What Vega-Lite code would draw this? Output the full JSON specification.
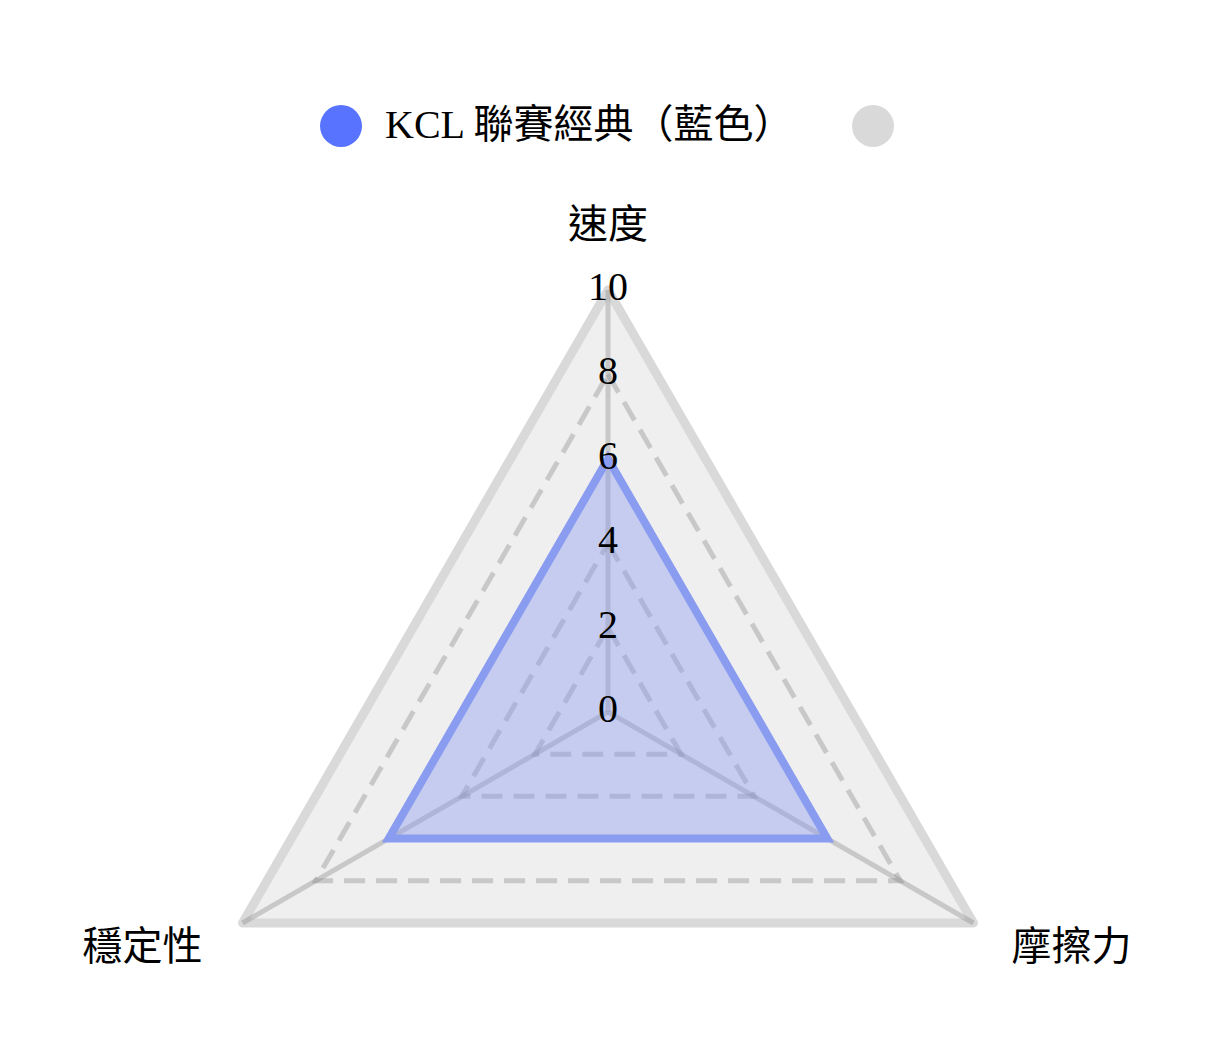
{
  "$schema": "https://vega.github.io/schema/vega-lite/v6.json",
  "width": 1216,
  "height": 1050,
  "autosize": "none",
  "padding": 0,
  "background": "white",
  "config": {"view": {"stroke": null}},
  "datasets": {
    "scores": [
      {"series": "KCL 聯賽經典（藍色）", "axis": "速度", "value": 6},
      {"series": "KCL 聯賽經典（藍色）", "axis": "摩擦力", "value": 6},
      {"series": "KCL 聯賽經典（藍色）", "axis": "穩定性", "value": 6},
      {"series": " ", "axis": "速度", "value": 10},
      {"series": " ", "axis": "摩擦力", "value": 10},
      {"series": " ", "axis": "穩定性", "value": 10}
    ],
    "grid": [
      {"axis": "速度", "value": 0}, {"axis": "摩擦力", "value": 0}, {"axis": "穩定性", "value": 0},
      {"axis": "速度", "value": 2}, {"axis": "摩擦力", "value": 2}, {"axis": "穩定性", "value": 2},
      {"axis": "速度", "value": 4}, {"axis": "摩擦力", "value": 4}, {"axis": "穩定性", "value": 4},
      {"axis": "速度", "value": 6}, {"axis": "摩擦力", "value": 6}, {"axis": "穩定性", "value": 6},
      {"axis": "速度", "value": 8}, {"axis": "摩擦力", "value": 8}, {"axis": "穩定性", "value": 8},
      {"axis": "速度", "value": 10}, {"axis": "摩擦力", "value": 10}, {"axis": "穩定性", "value": 10}
    ]
  },
  "layer": [
    {
      "data": {"name": "scores"},
      "transform": [
        {"filter": "datum.series === ' '"},
        {"calculate": "indexof(['速度','摩擦力','穩定性'], datum.axis)", "as": "k"},
        {"calculate": "datum.value * sin(datum.k * 2 * PI / 3)", "as": "px"},
        {"calculate": "datum.value * cos(datum.k * 2 * PI / 3)", "as": "py"}
      ],
      "mark": {"type": "line", "interpolate": "linear-closed", "fill": "#efefef", "stroke": "#d9d9d9", "strokeWidth": 9, "strokeJoin": "round", "strokeCap": "round"},
      "encoding": {
        "x": {"field": "px", "type": "quantitative", "axis": null, "scale": {"domain": [-14.41, 14.41], "nice": false, "zero": false}},
        "y": {"field": "py", "type": "quantitative", "axis": null, "scale": {"domain": [-8.01, 16.87], "nice": false, "zero": false}},
        "order": {"field": "k", "type": "quantitative"}
      }
    },
    {
      "data": {"name": "grid"},
      "transform": [
        {"filter": "datum.value > 0 && datum.value < 10"},
        {"calculate": "indexof(['速度','摩擦力','穩定性'], datum.axis)", "as": "k"},
        {"calculate": "datum.value * sin(datum.k * 2 * PI / 3)", "as": "px"},
        {"calculate": "datum.value * cos(datum.k * 2 * PI / 3)", "as": "py"}
      ],
      "mark": {"type": "line", "interpolate": "linear-closed", "color": "#808080", "opacity": 0.35, "strokeWidth": 5, "strokeDash": [21, 11]},
      "encoding": {
        "x": {"field": "px", "type": "quantitative"},
        "y": {"field": "py", "type": "quantitative"},
        "detail": {"field": "value", "type": "nominal"},
        "order": {"field": "k", "type": "quantitative"}
      }
    },
    {
      "data": {"name": "grid"},
      "transform": [
        {"filter": "datum.value === 10"},
        {"calculate": "indexof(['速度','摩擦力','穩定性'], datum.axis)", "as": "k"},
        {"calculate": "datum.value * sin(datum.k * 2 * PI / 3)", "as": "px"},
        {"calculate": "datum.value * cos(datum.k * 2 * PI / 3)", "as": "py"},
        {"calculate": "0", "as": "cx"}
      ],
      "mark": {"type": "rule", "color": "#808080", "opacity": 0.35, "strokeWidth": 5},
      "encoding": {
        "x": {"field": "cx", "type": "quantitative"},
        "y": {"field": "cx", "type": "quantitative"},
        "x2": {"field": "px"},
        "y2": {"field": "py"}
      }
    },
    {
      "data": {"name": "scores"},
      "transform": [
        {"filter": "datum.series !== ' '"},
        {"calculate": "indexof(['速度','摩擦力','穩定性'], datum.axis)", "as": "k"},
        {"calculate": "datum.value * sin(datum.k * 2 * PI / 3)", "as": "px"},
        {"calculate": "datum.value * cos(datum.k * 2 * PI / 3)", "as": "py"}
      ],
      "mark": {"type": "line", "interpolate": "linear-closed", "fill": "#8a9cf0", "fillOpacity": 0.42, "stroke": "#8a9cf0", "strokeWidth": 8, "strokeJoin": "miter"},
      "encoding": {
        "x": {"field": "px", "type": "quantitative"},
        "y": {"field": "py", "type": "quantitative"},
        "order": {"field": "k", "type": "quantitative"}
      }
    },
    {
      "data": {"name": "scores"},
      "transform": [
        {"calculate": "indexof(['速度','摩擦力','穩定性'], datum.axis)", "as": "k"},
        {"calculate": "datum.value * sin(datum.k * 2 * PI / 3)", "as": "px"},
        {"calculate": "datum.value * cos(datum.k * 2 * PI / 3)", "as": "py"}
      ],
      "mark": {"type": "point", "filled": true, "opacity": 0, "size": 10},
      "encoding": {
        "x": {"field": "px", "type": "quantitative"},
        "y": {"field": "py", "type": "quantitative"},
        "color": {
          "field": "series",
          "type": "nominal",
          "scale": {"domain": ["KCL 聯賽經典（藍色）", " "], "range": ["#5773ff", "#d9d9d9"]},
          "legend": {
            "title": null,
            "orient": "none",
            "direction": "horizontal",
            "legendX": 320,
            "legendY": 105,
            "symbolType": "circle",
            "symbolSize": 1764,
            "symbolOpacity": 1,
            "symbolStrokeWidth": 0,
            "labelFont": "Liberation Serif, Noto Sans CJK TC",
            "labelFontSize": 40,
            "labelColor": "#000000",
            "labelOffset": 23,
            "labelLimit": 1000,
            "columnPadding": 57
          }
        }
      }
    },
    {
      "data": {"name": "grid"},
      "transform": [
        {"filter": "datum.axis === '速度'"},
        {"calculate": "0", "as": "cx"}
      ],
      "mark": {"type": "text", "font": "Liberation Serif", "fontSize": 40, "color": "#000000", "align": "center", "baseline": "middle", "dy": -2},
      "encoding": {
        "x": {"field": "cx", "type": "quantitative"},
        "y": {"field": "value", "type": "quantitative"},
        "text": {"field": "value", "type": "quantitative"}
      }
    },
    {
      "data": {"name": "grid"},
      "transform": [
        {"filter": "datum.value === 10"},
        {"calculate": "indexof(['速度','摩擦力','穩定性'], datum.axis)", "as": "k"},
        {"calculate": "datum.value * sin(datum.k * 2 * PI / 3)", "as": "px"},
        {"calculate": "datum.value * cos(datum.k * 2 * PI / 3)", "as": "py"},
        {"filter": "datum.k === 0"}
      ],
      "mark": {"type": "text", "font": "Liberation Serif, Noto Sans CJK TC", "fontSize": 40, "color": "#000000", "align": "center", "baseline": "middle", "dy": -64},
      "encoding": {
        "x": {"field": "px", "type": "quantitative"},
        "y": {"field": "py", "type": "quantitative"},
        "text": {"field": "axis", "type": "nominal"}
      }
    },
    {
      "data": {"name": "grid"},
      "transform": [
        {"filter": "datum.value === 10"},
        {"calculate": "indexof(['速度','摩擦力','穩定性'], datum.axis)", "as": "k"},
        {"calculate": "datum.value * sin(datum.k * 2 * PI / 3)", "as": "px"},
        {"calculate": "datum.value * cos(datum.k * 2 * PI / 3)", "as": "py"},
        {"filter": "datum.k === 1"}
      ],
      "mark": {"type": "text", "font": "Liberation Serif, Noto Sans CJK TC", "fontSize": 40, "color": "#000000", "align": "left", "baseline": "middle", "dx": 38, "dy": 25},
      "encoding": {
        "x": {"field": "px", "type": "quantitative"},
        "y": {"field": "py", "type": "quantitative"},
        "text": {"field": "axis", "type": "nominal"}
      }
    },
    {
      "data": {"name": "grid"},
      "transform": [
        {"filter": "datum.value === 10"},
        {"calculate": "indexof(['速度','摩擦力','穩定性'], datum.axis)", "as": "k"},
        {"calculate": "datum.value * sin(datum.k * 2 * PI / 3)", "as": "px"},
        {"calculate": "datum.value * cos(datum.k * 2 * PI / 3)", "as": "py"},
        {"filter": "datum.k === 2"}
      ],
      "mark": {"type": "text", "font": "Liberation Serif, Noto Sans CJK TC", "fontSize": 40, "color": "#000000", "align": "right", "baseline": "middle", "dx": -40, "dy": 25},
      "encoding": {
        "x": {"field": "px", "type": "quantitative"},
        "y": {"field": "py", "type": "quantitative"},
        "text": {"field": "axis", "type": "nominal"}
      }
    }
  ]
}
